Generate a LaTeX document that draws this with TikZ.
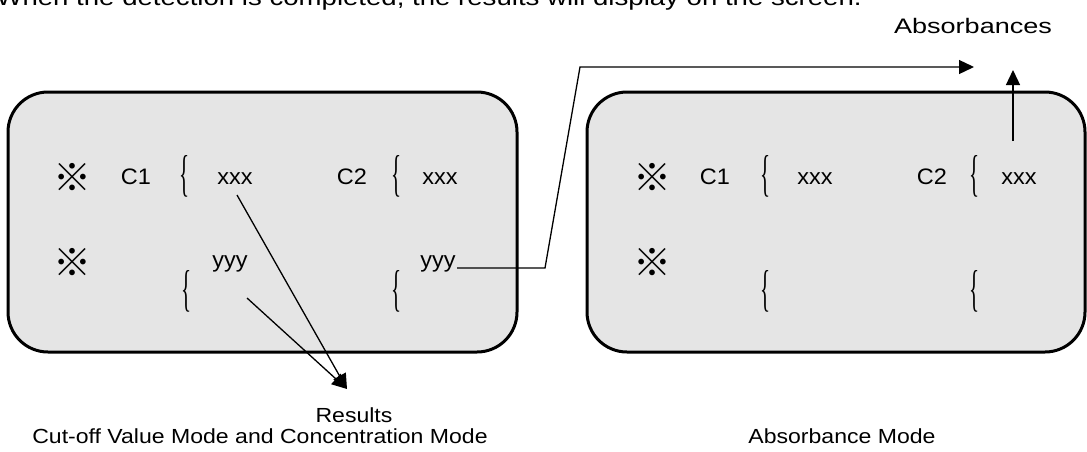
\documentclass[tikz,border=0pt]{standalone}
\usepackage{fontspec}
\setmainfont{Liberation Sans}
\newfontfamily\cjkf{Noto Sans CJK JP}
\newfontfamily\serifb{Liberation Serif}
\usetikzlibrary{arrows.meta}
\definecolor{boxgray}{HTML}{E5E5E5}
\begin{document}
\begin{tikzpicture}[x=0.5pt,y=-0.5pt,
  screen/.style={draw=black, line width=1.5pt, fill=boxgray, rounded corners=20pt, inner sep=0pt},
  bt/.style={font=\fontsize{11.2pt}{12pt}\selectfont, inner sep=0pt, xscale=1.05, anchor=base},
  refmark/.style={font=\cjkf\fontsize{19pt}{20pt}\selectfont, inner sep=0pt},
  brc/.style={font=\serifb\fontsize{10.5pt}{12pt}\selectfont, inner sep=0pt, yscale=2.4},
  lab/.style={font=\fontsize{10.2pt}{11pt}\selectfont, inner sep=0pt, xscale=1.13, anchor=base},
  arr/.style={line width=0.65pt, -{Triangle[length=7.5pt,width=7pt]}}]
\useasboundingbox (0,0) rectangle (1087,451);
\clip (0,0) rectangle (1087,451);

% top (cut) sentence
\node[font=\fontsize{11.5pt}{12pt}\selectfont, inner sep=0pt, xscale=1.2, anchor=base west] (top) at (-4,5.5)
  {When the detection is completed, the results will display on the screen.};

% screens
\node[screen, minimum width=254.5pt, minimum height=130pt] (lbox) at (262.5,222) {};
\node[screen, minimum width=249pt, minimum height=130pt] (rbox) at (836,222) {};

% left screen contents
\node[refmark] (ls1) at (73,177) {※};
\node[bt] (lc1) at (136,184) {C1};
\node[brc] (lb1) at (185,176) {\{};
\node[bt] (lx1) at (235,184) {xxx};
\node[bt] (lc2) at (352,184) {C2};
\node[brc] (lb2) at (397,176) {\{};
\node[bt] (lx2) at (440,184) {xxx};
\node[refmark] (ls2) at (73,262) {※};
\node[bt] (ly1) at (230,267) {yyy};
\node[brc] (lb3) at (187,291) {\{};
\node[bt] (ly2) at (438,267) {yyy};
\node[brc] (lb4) at (397,291) {\{};

% right screen contents
\node[refmark] (rs1) at (652,177) {※};
\node[bt] (rc1) at (715,184) {C1};
\node[brc] (rb1) at (766,176) {\{};
\node[bt] (rx1) at (815,184) {xxx};
\node[bt] (rc2) at (932,184) {C2};
\node[brc] (rb2) at (975,176) {\{};
\node[bt] (rx2) at (1019,184) {xxx};
\node[refmark] (rs2) at (652,262) {※};
\node[brc] (rb3) at (766,291) {\{};
\node[brc] (rb4) at (975,291) {\{};

% labels
\node[lab] (results) at (354,422) {Results};
\node[lab] (cutoff) at (260,443) {Cut-off Value Mode and Concentration Mode};
\node[lab] (absmode) at (842,443) {Absorbance Mode};
\node[lab, font=\fontsize{10.5pt}{12pt}\selectfont, xscale=1.14] (absorb) at (973,33) {Absorbances};

% connectors
\coordinate (rtip) at (347,389);
\coordinate (ystart) at (247,298);
\coordinate (xstart) at (237,195);
\draw[arr] (xstart) -- (rtip);
\draw[arr] (ystart) -- (rtip);
\coordinate (k1) at (545,268);
\coordinate (k2) at (580,67);
\coordinate (htip) at (974,67);
\draw[arr] (ly2.base east) ++(1,1) -- (k1) -- (k2) -- (htip);
\coordinate (vstart) at (1013,141);
\coordinate (vtip) at (1013,70);
\draw[arr] (vstart) -- (vtip);
\end{tikzpicture}
\end{document}
